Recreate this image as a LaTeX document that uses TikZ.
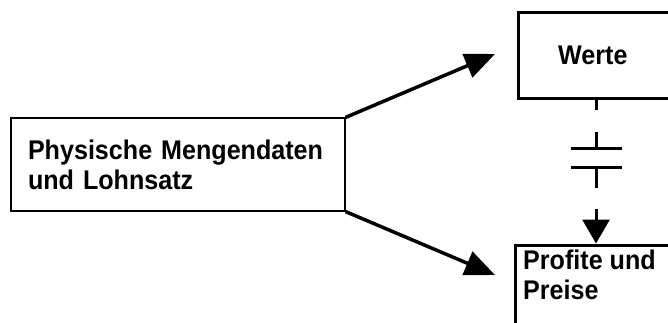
\documentclass[tikz,border=0pt]{standalone}
\usepackage{fontspec}
\setmainfont{Liberation Sans}[FakeStretch=0.93]
\usetikzlibrary{arrows.meta,calc}
\tikzset{
  lbl/.style={font=\bfseries\fontsize{27}{30}\selectfont},
  thinbox/.style={draw,line width=1.2pt,rectangle},
  openbox/.style={rectangle},
  thickline/.style={line width=3pt},
  bigarrow/.style={line width=3.5pt,-{Triangle[length=30pt,width=25pt]}},
  link/.style={line width=3pt},
}
\begin{document}
\begin{tikzpicture}[x=1pt,y=-1pt]
\useasboundingbox (0,0) rectangle (668,323);
% left box
\node[thinbox,lbl,minimum width=334pt,minimum height=93pt,inner xsep=17pt,
      text width=300pt,align=left] (src) at (178,164.5)
  {Physische Mengendaten\\und Lohnsatz};
% Werte box (runs to the right edge)
\node[openbox,lbl,minimum height=85pt,inner xsep=40pt,text width=70pt,
      align=left,anchor=west] (werte) at (518,55.5) {Werte};
\draw[thickline] (werte.north east) -- (werte.north west) -- (werte.south west) -- (werte.south east);
% Profite box (runs to the right and bottom edges)
\node[openbox,minimum width=153pt,minimum height=78pt,anchor=north west] (prof) at (515,245) {};
\draw[thickline] (prof.north east) -- (prof.north west) -- (prof.south west);
\node[lbl,anchor=north west,align=left,inner sep=0pt] (proftext) at (523,250)
  {Profite und\\Preise};
% diagonal arrows
\coordinate (tipA) at (495,54);
\coordinate (tipB) at (495,275);
\draw[bigarrow] (src.north east) -- (tipA);
\draw[bigarrow] (src.south east) -- (tipB);
% broken connector Werte -> Profite
\coordinate (wb) at (596,98);
\coordinate (pt) at (596,245);
\draw[link] (wb) -- ($(wb)+(0,12)$);
\draw[link] ($(wb)+(0,34)$) -- ($(wb)+(0,51)$);
\draw[link] ($(wb)+(-25,51)$) -- ($(wb)+(26,51)$);
\draw[link] ($(wb)+(-25,69)$) -- ($(wb)+(26,69)$);
\draw[link] ($(wb)+(0,69)$) -- ($(wb)+(0,90)$);
\draw[line width=3pt,-{Triangle[length=24pt,width=27pt]}] ($(wb)+(0,111)$) -- ($(pt)+(0,-1.5)$);
\end{tikzpicture}
\end{document}
